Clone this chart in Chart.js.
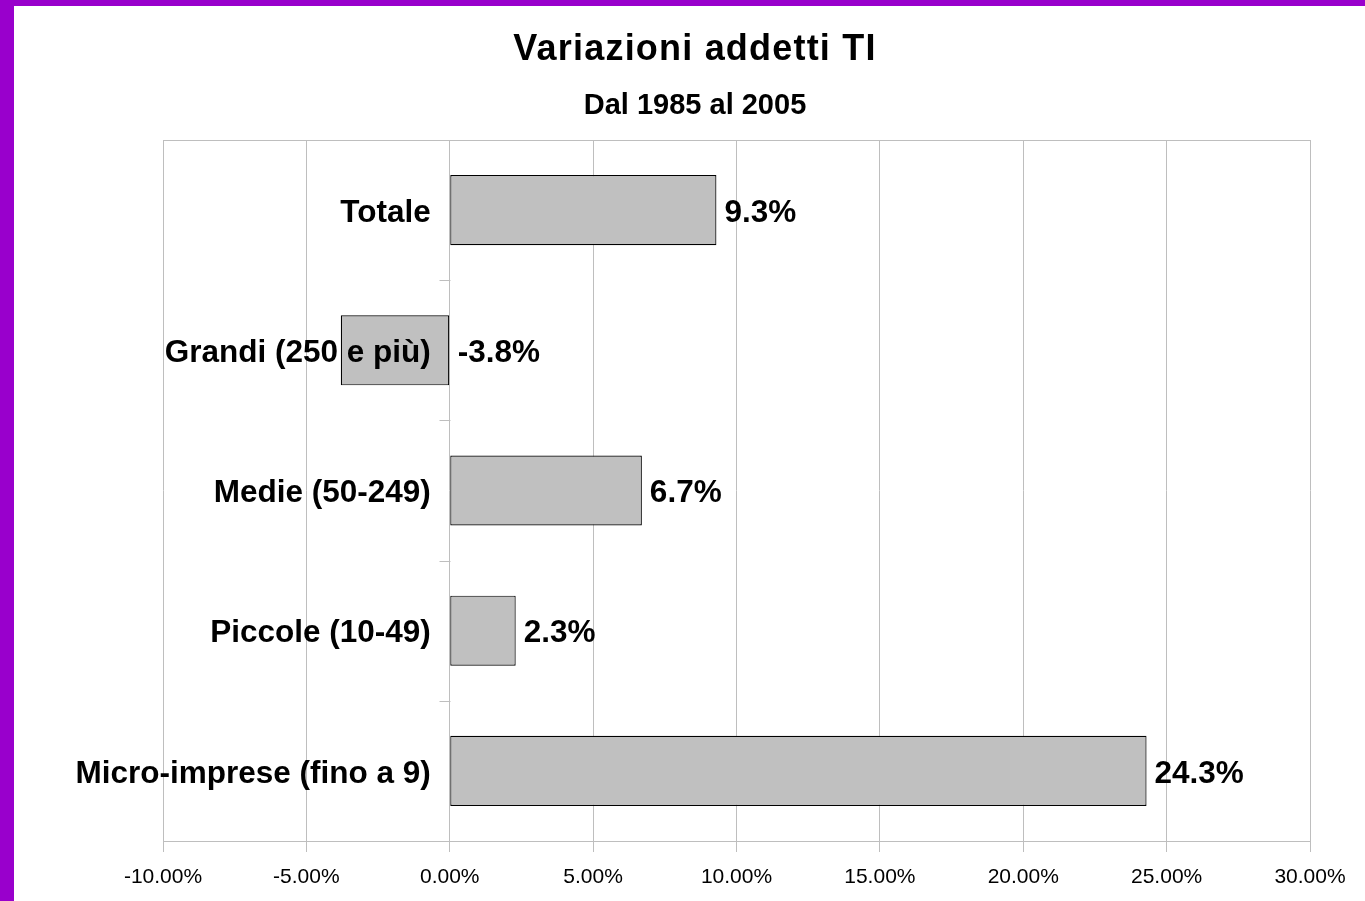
<!DOCTYPE html>
<html>
<head>
<meta charset="utf-8">
<script src="https://cdn.jsdelivr.net/npm/chart.js@4"></script>
<style>
  html, body { margin: 0; padding: 0; background: #fff; overflow: hidden; }
  #frame { position: absolute; left: 0; top: 0; width: 1351px; height: 895px;
           border-left: 14px solid #9900cc; border-top: 6px solid #9900cc; background: #fff; }
  #wrap { position: relative; width: 1351px; height: 895px; }
</style>
</head>
<body>
<div id="frame"><div id="wrap"><canvas id="c"></canvas></div></div>
<script>
// ---- data ----
const categories = ['Totale', 'Grandi (250 e più)', 'Medie (50-249)', 'Piccole (10-49)', 'Micro-imprese (fino a 9)'];
const values = [9.3, -3.8, 6.7, 2.3, 24.3];
const xMin = -10;
const xMax = 30;
const xStep = 5;
const titleText = 'Variazioni addetti TI';
const subtitleText = 'Dal 1985 al 2005';

const FONT = "'Liberation Sans', Arial, sans-serif";
const GRID = '#bebebe';

const labelsPlugin = {
  id: 'labelsPlugin',
  afterDatasetsDraw(chart) {
    const ctx = chart.ctx;
    const xs = chart.scales.x, ys = chart.scales.y;
    const area = chart.chartArea;
    const x0 = xs.getPixelForValue(0);
    ctx.save();
    // top border of plot area
    ctx.strokeStyle = GRID;
    ctx.lineWidth = 1;
    ctx.beginPath();
    ctx.moveTo(area.left, Math.round(area.top) + 0.5);
    ctx.lineTo(area.right, Math.round(area.top) + 0.5);
    ctx.stroke();
    // category tick marks at x = 0
    const ax = Math.round(x0) + 0.5;
    ctx.beginPath();
    for (let i = 0; i < categories.length - 1; i++) {
      const yb = Math.round((ys.getPixelForValue(i) + ys.getPixelForValue(i + 1)) / 2) + 0.5;
      ctx.moveTo(ax - 11, yb);
      ctx.lineTo(ax, yb);
    }
    ctx.stroke();
    // category labels
    ctx.fillStyle = '#000';
    ctx.font = 'bold 31.5px ' + FONT;
    ctx.textAlign = 'right';
    ctx.textBaseline = 'middle';
    categories.forEach((c, i) => {
      ctx.fillText(c, x0 - 19, ys.getPixelForValue(i) + 3);
    });
    // value labels
    ctx.textAlign = 'left';
    const meta = chart.getDatasetMeta(0);
    meta.data.forEach((bar, i) => {
      const v = values[i];
      const px = xs.getPixelForValue(Math.max(0, v)) + 8;
      ctx.fillText(v.toFixed(1) + '%', px, bar.y + 3);
    });
    ctx.restore();
  }
};

const chart = new Chart(document.getElementById('c'), {
  type: 'bar',
  data: {
    labels: categories,
    datasets: [{
      data: values,
      backgroundColor: '#c0c0c0',
      borderColor: '#000000',
      borderWidth: 1.2,
      borderSkipped: false,
      barPercentage: 0.5,
      categoryPercentage: 1.0
    }]
  },
  options: {
    indexAxis: 'y',
    responsive: true,
    maintainAspectRatio: false,
    animation: false,
    layout: { padding: { left: 11, right: 0, top: 0, bottom: 0 } },
    plugins: {
      legend: { display: false },
      tooltip: { enabled: false },
      title: {
        display: true,
        text: titleText,
        color: '#000',
        font: { family: FONT, size: 36, weight: 'bold', lineHeight: 1.2 },
        padding: { top: 22.4, bottom: 0 }
      },
      subtitle: {
        display: true,
        text: subtitleText,
        color: '#000',
        font: { family: FONT, size: 29, weight: 'bold', lineHeight: 1.2 },
        padding: { top: 17, bottom: 16.6 }
      }
    },
    scales: {
      x: {
        type: 'linear',
        position: 'bottom',
        min: xMin,
        max: xMax,
        grid: { color: GRID, lineWidth: 1, tickLength: 11, tickColor: GRID },
        border: { color: GRID },
        ticks: {
          stepSize: xStep,
          color: '#000',
          padding: 13,
          maxRotation: 0,
          autoSkip: false,
          font: { family: FONT, size: 21 },
          callback: (v) => Number(v).toFixed(2) + '%'
        },
        afterFit(s) { s.height = 60; }
      },
      y: {
        type: 'category',
        position: 'left',
        grid: { display: false },
        border: { display: false },
        ticks: { display: false },
        afterFit(s) { s.width = 138; }
      },
      yR: {
        type: 'linear',
        position: 'right',
        grid: { display: false },
        border: { display: false },
        ticks: { display: false },
        afterFit(s) { s.width = 55; }
      }
    }
  },
  plugins: [labelsPlugin]
});

// title letter spacing
if (chart.titleBlock) {
  const tb = chart.titleBlock;
  const origDraw = tb.draw.bind(tb);
  tb.draw = function (a) {
    const ctx = this.ctx;
    ctx.save();
    ctx.letterSpacing = '1.2px';
    origDraw(a);
    ctx.restore();
  };
  chart.draw();
}
</script>
</body>
</html>
